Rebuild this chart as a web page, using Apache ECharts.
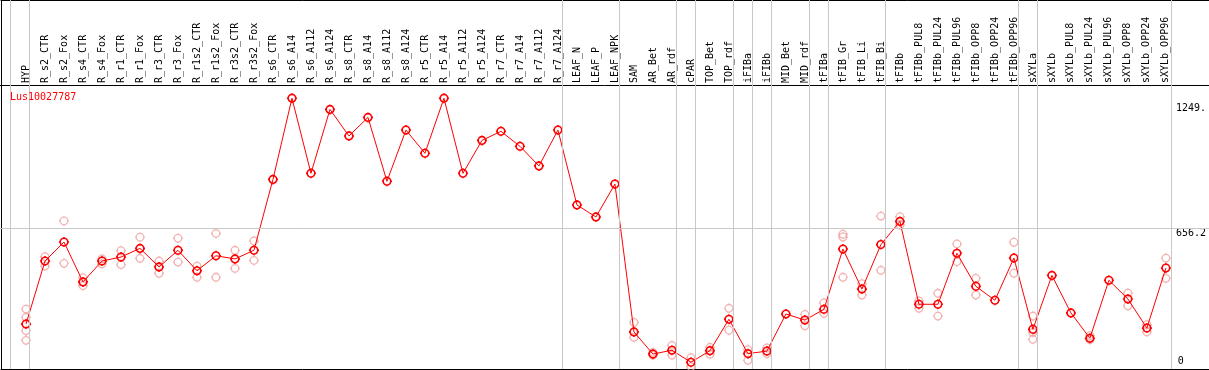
<!DOCTYPE html>
<html>
<head>
<meta charset="utf-8">
<script src="https://cdn.jsdelivr.net/npm/echarts@6/dist/echarts.min.js"></script>
<style>html,body{margin:0;padding:0;background:#fff}#c{width:1209px;height:370px}</style>
</head>
<body>
<div id="c"></div>
<script>
const geneName = 'Lus10027787';
const categories = ['HYP','R_s2_CTR','R_s2_Fox','R_s4_CTR','R_s4_Fox','R_r1_CTR','R_r1_Fox','R_r3_CTR','R_r3_Fox','R_r1s2_CTR','R_r1s2_Fox','R_r3s2_CTR','R_r3s2_Fox','R_s6_CTR','R_s6_A14','R_s6_A112','R_s6_A124','R_s8_CTR','R_s8_A14','R_s8_A112','R_s8_A124','R_r5_CTR','R_r5_A14','R_r5_A112','R_r5_A124','R_r7_CTR','R_r7_A14','R_r7_A112','R_r7_A124','LEAF_N','LEAF_P','LEAF_NPK','SAM','AR_Bet','AR_rdf','cPAR','TOP_Bet','TOP_rdf','iFIBa','iFIBb','MID_Bet','MID_rdf','tFIBa','tFIB_Gr','tFIB_Li','tFIB_Bi','tFIBb','tFIBb_PUL8','tFIBb_PUL24','tFIBb_PUL96','tFIBb_OPP8','tFIBb_OPP24','tFIBb_OPP96','sXYLa','sXYLb','sXYLb_PUL8','sXYLb_PUL24','sXYLb_PUL96','sXYLb_OPP8','sXYLb_OPP24','sXYLb_OPP96'];
const meanValues = [202,501,591,402,501,520,561,473,552,455,526,511,552,888,1273,917,1220,1094,1182,879,1122,1012,1273,917,1073,1116,1045,952,1122,767,710,866,165,60,78,21,76,225,62,74,250,221,272,558,368,579,689,296,296,538,381,315,515,177,433,255,135,410,321,183,468];
const replicateValues = [[273,234,171,125],[522,477],[691,490],[422,384],[511,488],[550,484],[614,514],[501,443],[609,496],[477,424],[632,424],[552,466],[596,504],[],[],[],[],[],[],[],[],[],[],[],[],[],[],[],[],[],[],[],[210,139],[68,54],[101,55],[43,0],[92,59],[277,173],[81,30],[89,62],[],[248,194],[302,253],[628,615,424],[394,340],[714,457],[711,672],[312,277],[348,240],[582,498],[419,340],[],[590,443],[240,163,130],[],[],[147,128],[],[349,289],[199,165],[515,419]];
const groupSizes = [1,28,3,3,1,2,1,1,2,1,3,7,1,7];
const yTickValues = [656.2, 1249];
const yTickLabels = ['656.2', '1249.'];
const yZeroValue = [0];
const yZeroLabel = ['0'];
const referenceLine = 656.2;

const Y_MIN = -10.9, Y_MAX = 1335.7;
const MONO = '"DejaVu Sans Mono", "Liberation Mono", monospace';
const SYM = 'path://M5,1.2A3.8,3.8,0,1,1,4.99,1.2ZM5,0L5,1.2M5,8.8L5,10M0,5L1.2,5M8.8,5L10,5';

// separator positions (just right of each group's last category)
const sepPositions = [-1 + 0.16];
let acc = -1;
groupSizes.forEach(s => { acc += s; sepPositions.push(acc + 0.16); });

const repData = [];
replicateValues.forEach((arr, i) => arr.forEach(v => repData.push([i, v])));
const meanData = meanValues.map((v, i) => [i, v]);

const G0 = {left: 26, right: 41.2, top: 85, bottom: 1};
const n = categories.length - 1;
const step = (1209 - G0.left - G0.right) / n;

const hidden = {show: false, splitLine: {show: false}};
const blackLine = {show: true, onZero: false, lineStyle: {color: '#000', width: 1}};
const chart = echarts.init(document.getElementById('c'), null, {renderer: 'canvas'});
chart.setOption({
  animation: false,
  backgroundColor: '#fff',
  title: {text: geneName, left: 10, top: 92, padding: 0,
    textStyle: {color: '#ff0000', fontSize: 10, fontWeight: 'normal', fontFamily: MONO}},
  grid: [
    Object.assign({}, G0),
    {left: G0.left - step, right: G0.right - step, top: 0, bottom: 1},
    {left: 0, right: 0, top: 85, bottom: 1},
    {left: 1, right: 0, top: 0, bottom: 1},
    Object.assign({}, G0)
  ],
  xAxis: [
    {type: 'category', gridIndex: 0, position: 'top', data: categories, boundaryGap: false,
      axisLine: {show: false}, axisTick: {show: false}, splitLine: {show: false},
      axisLabel: {rotate: 90, interval: 0, margin: 2, fontSize: 10, fontFamily: MONO, color: '#000'}},
    Object.assign({type: 'value', gridIndex: 0, min: 0, max: n}, hidden),
    Object.assign({type: 'value', gridIndex: 1, min: -1, max: n + 1}, hidden),
    {type: 'value', gridIndex: 2, min: 0, max: 1, position: 'top', splitLine: {show: false},
      axisLine: blackLine, axisTick: {show: false}, axisLabel: {show: false}},
    {type: 'value', gridIndex: 3, min: 0, max: 1, position: 'top', splitLine: {show: false},
      axisLine: blackLine, axisTick: {show: false}, axisLabel: {show: false}},
    {type: 'value', gridIndex: 3, min: 0, max: 1, position: 'bottom', splitLine: {show: false},
      axisLine: blackLine, axisTick: {show: false}, axisLabel: {show: false}},
    Object.assign({type: 'value', gridIndex: 4, min: 0, max: 1}, hidden)
  ],
  yAxis: [
    {type: 'value', gridIndex: 0, min: Y_MIN, max: Y_MAX, position: 'right',
      axisLine: {show: false}, axisTick: {show: false}, splitLine: {show: false},
      axisLabel: {customValues: yTickValues, margin: 10, align: 'left', verticalAlign: 'top',
        fontSize: 10, fontFamily: MONO, color: '#000',
        formatter: v => yTickLabels[yTickValues.indexOf(v)]}},
    Object.assign({type: 'value', gridIndex: 1, min: 0, max: 1}, hidden),
    Object.assign({type: 'value', gridIndex: 2, min: Y_MIN, max: Y_MAX}, hidden),
    {type: 'value', gridIndex: 3, min: 0, max: 1, position: 'left', splitLine: {show: false},
      axisLine: blackLine, axisTick: {show: false}, axisLabel: {show: false}},
    {type: 'value', gridIndex: 4, min: Y_MIN, max: Y_MAX, position: 'right',
      axisLine: {show: false}, axisTick: {show: false}, splitLine: {show: false},
      axisLabel: {customValues: yZeroValue, margin: 10, align: 'left', verticalAlign: 'bottom',
        fontSize: 10, fontFamily: MONO, color: '#000',
        formatter: v => yZeroLabel[yZeroValue.indexOf(v)]}}
  ],
  series: [
    {type: 'line', xAxisIndex: 2, yAxisIndex: 1, data: [], silent: true,
      markLine: {silent: true, symbol: 'none', label: {show: false},
        lineStyle: {color: '#c8c8c8', width: 1, type: 'solid'},
        data: sepPositions.map(p => ({xAxis: p}))}},
    {type: 'line', xAxisIndex: 3, yAxisIndex: 2, data: [], silent: true,
      markLine: {silent: true, symbol: 'none', label: {show: false},
        lineStyle: {color: '#c8c8c8', width: 1, type: 'solid'},
        data: [{yAxis: referenceLine}]}},
    {type: 'scatter', xAxisIndex: 1, yAxisIndex: 0, data: repData, symbol: SYM, symbolSize: 10,
      itemStyle: {color: 'rgba(0,0,0,0)', borderColor: '#f0a0a0', borderWidth: 1.3}, silent: true, z: 3},
    {type: 'line', xAxisIndex: 1, yAxisIndex: 0, data: meanData, symbol: SYM, symbolSize: 10,
      lineStyle: {color: '#ff0000', width: 1},
      itemStyle: {color: 'rgba(0,0,0,0)', borderColor: '#ff0000', borderWidth: 1.6}, silent: true, z: 4}
  ]
});
</script>
</body>
</html>
